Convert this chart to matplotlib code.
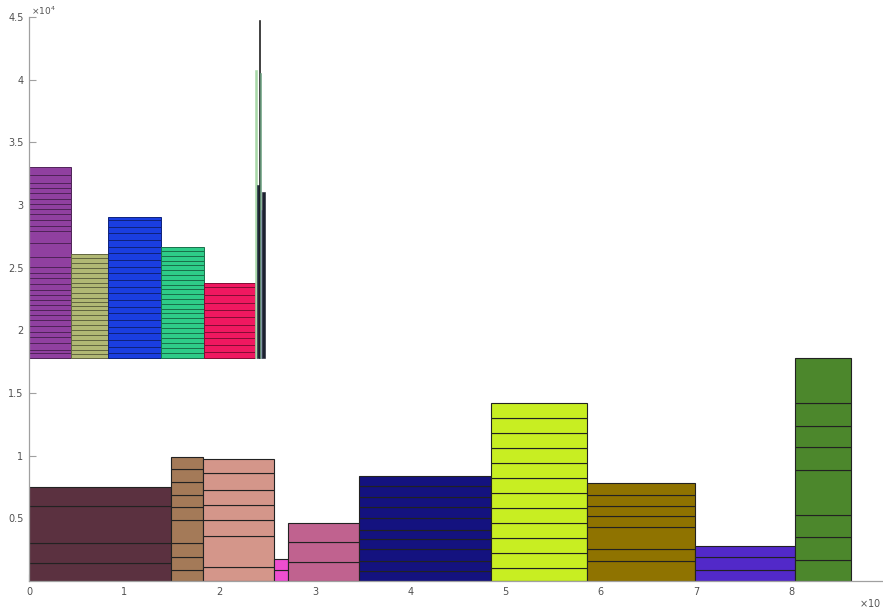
import numpy as np
import matplotlib
matplotlib.use('Agg')
import matplotlib.pyplot as plt
from matplotlib.colors import to_rgb

# lower row of stacked bars (x in units, y in 1e4)
low_left = [0.0, 1.49, 1.83, 2.57, 2.72, 3.46, 4.85, 5.85, 6.99, 8.04]
low_width = [1.49, 0.34, 0.74, 0.15, 0.74, 1.39, 1.00, 1.14, 1.05, 0.59]
low_colors = ['#5b3140', '#a47a58', '#d4968a', '#ee4ed0', '#c0628f',
              '#14127f', '#c8ee22', '#8f7300', '#5229c9', '#4c872c']
low_bounds = [
    [0, 0.145, 0.30, 0.60, 0.75],
    [0, 0.09, 0.19, 0.30, 0.49, 0.59, 0.69, 0.79, 0.89, 0.99],
    [0, 0.115, 0.36, 0.49, 0.61, 0.73, 0.86, 0.975],
    [0, 0.09, 0.175],
    [0, 0.155, 0.31, 0.465],
    [0, 0.08, 0.16, 0.255, 0.335, 0.41, 0.50, 0.59, 0.67, 0.76, 0.84],
    [0, 0.10, 0.22, 0.34, 0.46, 0.58, 0.70, 0.82, 0.94, 1.06, 1.18, 1.30, 1.42],
    [0, 0.16, 0.255, 0.43, 0.52, 0.60, 0.69, 0.78],
    [0, 0.09, 0.19, 0.28],
    [0, 0.17, 0.35, 0.53, 0.885, 1.07, 1.24, 1.42, 1.78],
]

# upper row, stacked on top of 1.78e4
up_base = 1.78
up_left = [0.0, 0.44, 0.83, 1.39, 1.84]
up_width = [0.44, 0.39, 0.56, 0.45, 0.53]
up_colors = ['#9040a0', '#b1b874', '#1a3ee0', '#2ecc88', '#f01860']
up_bounds = [
    [1.78, 1.817, 1.844, 1.897, 1.950, 1.990, 2.035, 2.083, 2.123, 2.163, 2.203,
     2.243, 2.283, 2.322, 2.370, 2.416, 2.456, 2.508, 2.588, 2.695, 2.796, 2.836,
     2.881, 2.929, 2.969, 3.009, 3.046, 3.094, 3.134, 3.179, 3.240, 3.307],
    [1.78, 1.812, 1.844, 1.884, 1.923, 1.963, 2.003, 2.043, 2.083, 2.123, 2.163,
     2.195, 2.229, 2.256, 2.296, 2.344, 2.376, 2.416, 2.456, 2.496, 2.535, 2.575, 2.607],
    [1.78, 1.817, 1.870, 1.923, 1.977, 2.030, 2.083, 2.136, 2.189, 2.243, 2.296,
     2.349, 2.402, 2.456, 2.508, 2.562, 2.615, 2.668, 2.721, 2.775, 2.828, 2.881, 2.907],
    [1.78, 1.82, 1.86, 1.90, 1.94, 1.98, 2.02, 2.06, 2.10, 2.14, 2.17, 2.21, 2.25,
     2.29, 2.33, 2.36, 2.40, 2.44, 2.48, 2.52, 2.55, 2.59, 2.63, 2.668],
    [1.78, 1.830, 1.883, 1.937, 1.990, 2.043, 2.109, 2.163, 2.216, 2.283, 2.349, 2.381],
]

# thin slivers at the end of the upper row
thin_left = [2.371, 2.389, 2.417, 2.421, 2.434, 2.448]
thin_width = [0.018, 0.028, 0.004, 0.013, 0.014, 0.025]
thin_top = [4.08, 3.16, 4.48, 4.05, 2.96, 3.10]
thin_colors = ['#a8d8a8', '#1e2a3a', '#111111', '#6aa080', '#8090a8', '#1c2030']


def darker(c, f=0.55):
    r, g, b = to_rgb(c)
    return (r * f, g * f, b * f)


fig = plt.figure(figsize=(8.83, 6.09), dpi=100)
ax = fig.add_axes([29 / 883, 28 / 609, 854 / 883, 564 / 609])
ax.set_axisbelow(True)

for x0, w, c, bnd in zip(low_left, low_width, low_colors, low_bounds):
    b = np.array(bnd) * 1e4
    ax.bar(x0, np.diff(b), w, bottom=b[:-1], align='edge', color=c,
           edgecolor='#222222', linewidth=0.8)

for x0, w, c, bnd in zip(up_left, up_width, up_colors, up_bounds):
    b = np.array(bnd) * 1e4
    ax.bar(x0, np.diff(b), w, bottom=b[:-1], align='edge', color=c,
           edgecolor=darker(c), linewidth=0.7)

for x0, w, t, c in zip(thin_left, thin_width, thin_top, thin_colors):
    ax.bar(x0, (t - up_base) * 1e4, w, bottom=up_base * 1e4, align='edge',
           color=c, edgecolor=c, linewidth=0.4)

ax.set_xlim(0, 854 / 95.3)
ax.set_ylim(0, 45000)

ax.set_xticks(range(0, 9))
ax.set_xticklabels([str(i) for i in range(0, 9)])
yt = [0.5, 1, 1.5, 2, 2.5, 3, 3.5, 4, 4.5]
ax.set_yticks([v * 1e4 for v in yt])
ax.set_yticklabels([('%g' % v) for v in yt])

for s in ['top', 'right']:
    ax.spines[s].set_visible(False)
for s in ['left', 'bottom']:
    ax.spines[s].set_color('#a0a0a0')
    ax.spines[s].set_linewidth(0.9)
ax.tick_params(axis='both', direction='in', length=5, width=0.8,
               color='#a0a0a0', labelsize=7, labelcolor='#505050')
ax.tick_params(axis='y', pad=4)
ax.tick_params(axis='x', pad=4)

fig.text(31 / 883, 1 - 11 / 609, r'$\times10^4$', fontsize=6.5, color='#555555',
         va='center', ha='left')
fig.text(881 / 883, 1 - 603 / 609, r'$\times$10', fontsize=7, color='#555555',
         va='center', ha='right')

fig.savefig('out.png', dpi=100)
